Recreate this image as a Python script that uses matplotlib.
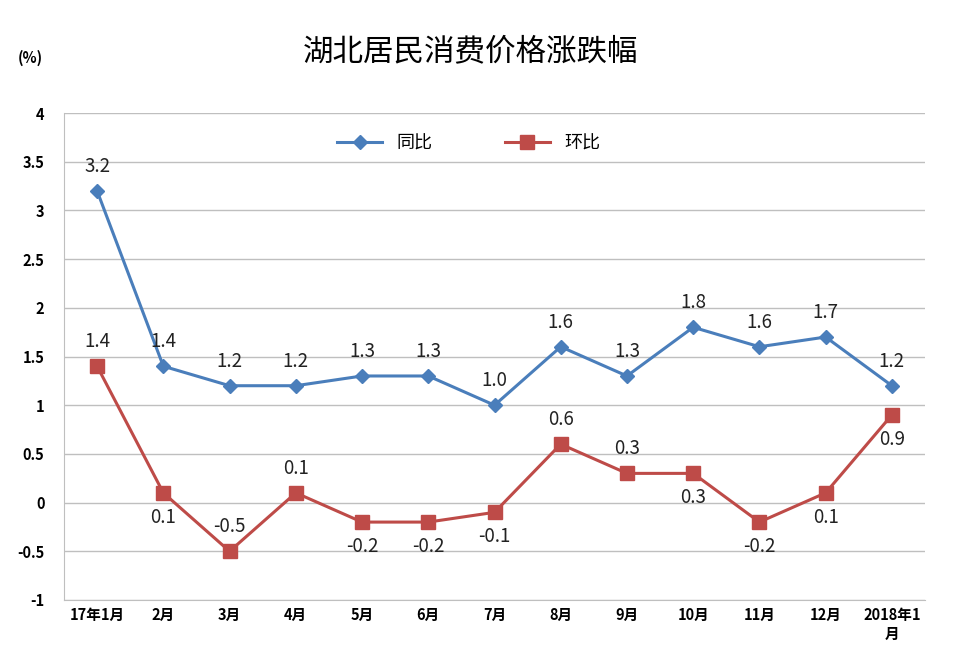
import matplotlib.pyplot as plt
import numpy as np

plt.rcParams['font.family'] = ['Noto Sans CJK SC', 'DejaVu Sans']

months = ['17年1月', '2月', '3月', '4月', '5月', '6月', '7月', '8月',
          '9月', '10月', '11月', '12月', '2018年1\n月']
yoy = [3.2, 1.4, 1.2, 1.2, 1.3, 1.3, 1.0, 1.6, 1.3, 1.8, 1.6, 1.7, 1.2]
mom = [1.4, 0.1, -0.5, 0.1, -0.2, -0.2, -0.1, 0.6, 0.3, 0.3, -0.2, 0.1, 0.9]
# label position for 环比: 1 above, -1 below
mom_pos = [1, -1, 1, 1, -1, -1, -1, 1, 1, -1, -1, -1, -1]

blue = '#4a7ebb'
red = '#be4b48'

fig = plt.figure(figsize=(9.6, 6.47), dpi=100)
ax = fig.add_axes([64/960, 47/647, 861/960, 487/647])

x = np.arange(len(months))
ax.plot(x, yoy, color=blue, lw=2.2, marker='D', ms=7, label='同比')
ax.plot(x, mom, color=red, lw=2.2, marker='s', ms=10, label='环比')

for i, v in enumerate(yoy):
    txt = '%.1f' % v
    ax.annotate(txt, (i, v), xytext=(0, 10), textcoords='offset points',
                ha='center', va='bottom', fontsize=13.5, color='#222222')
for i, v in enumerate(mom):
    txt = '%.1f' % v
    if mom_pos[i] > 0:
        ax.annotate(txt, (i, v), xytext=(0, 10), textcoords='offset points',
                    ha='center', va='bottom', fontsize=13.5, color='#222222')
    else:
        ax.annotate(txt, (i, v), xytext=(0, -10), textcoords='offset points',
                    ha='center', va='top', fontsize=13.5, color='#222222')

ax.set_xlim(-0.5, len(months) - 0.5)
ax.set_ylim(-1, 4)
ax.set_yticks(np.arange(-1, 4.01, 0.5))
ax.set_yticklabels(['-1', '-0.5', '0', '0.5', '1', '1.5', '2', '2.5', '3', '3.5', '4'])
ax.set_xticks(x)
ax.set_xticklabels(months)
ax.tick_params(axis='both', length=0, labelsize=10.5)
ax.tick_params(axis='y', pad=14)
ax.tick_params(axis='x', pad=5)
for lbl in ax.get_xticklabels() + ax.get_yticklabels():
    lbl.set_fontweight('bold')
ax.grid(axis='y', color='#bfbfbf', lw=1)
ax.set_axisbelow(True)
for s in ['top', 'right']:
    ax.spines[s].set_visible(False)
ax.spines['left'].set_color('#bfbfbf')
ax.spines['bottom'].set_color('#bfbfbf')

ax.legend(loc='upper center', bbox_to_anchor=(0.47, 0.99), ncol=2, frameon=False,
          fontsize=13, columnspacing=4, handlelength=2.5)

fig.text(0.49, 0.92, '湖北居民消费价格涨跌幅', ha='center', va='center', fontsize=22,
         fontweight='medium')
fig.text(0.032, 0.91, '(%)', ha='center', va='center', fontsize=10.5, fontweight='bold')

fig.savefig('out.png', dpi=100)
